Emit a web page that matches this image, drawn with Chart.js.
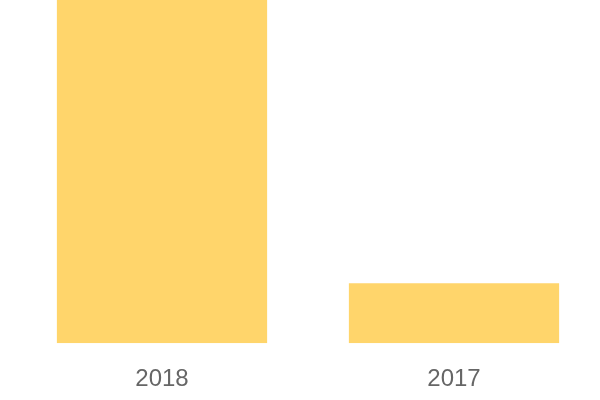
<!DOCTYPE html>
<html lang="en">

<head>
    <meta charset="UTF-8">
    <title>Bar Chart</title>
    <script src="https://cdn.jsdelivr.net/npm/chart.js"></script>
    <style>
        body { margin: 0; background: #fff; }
        #wrap { width: 600px; height: 400px; }
    </style>
</head>

<body>
    <div id="wrap"><canvas id="myChart"></canvas></div>

    <script>
        // 数据
        const years = ['2018', '2017'];
        const values = [100, 17.5];

        const ctx = document.getElementById('myChart').getContext('2d');
        new Chart(ctx, {
            type: 'bar',
            data: {
                labels: years,
                datasets: [{
                    data: values,
                    backgroundColor: 'rgb(255, 213, 107)',
                    borderWidth: 0
                }]
            },
            options: {
                responsive: true,
                maintainAspectRatio: false,
                animation: false,
                layout: { padding: { left: 16, right: 0, top: 0, bottom: -16 } },
                plugins: {
                    legend: { display: false },
                    tooltip: { enabled: false }
                },
                scales: {
                    x: {
                        grid: { display: false, drawTicks: false },
                        border: { display: false },
                        ticks: {
                            color: '#666',
                            padding: 22,
                            font: { family: 'Liberation Sans', size: 24 }
                        }
                    },
                    y: {
                        display: false,
                        min: 0,
                        max: 100
                    }
                }
            }
        });
    </script>
</body>

</html>
